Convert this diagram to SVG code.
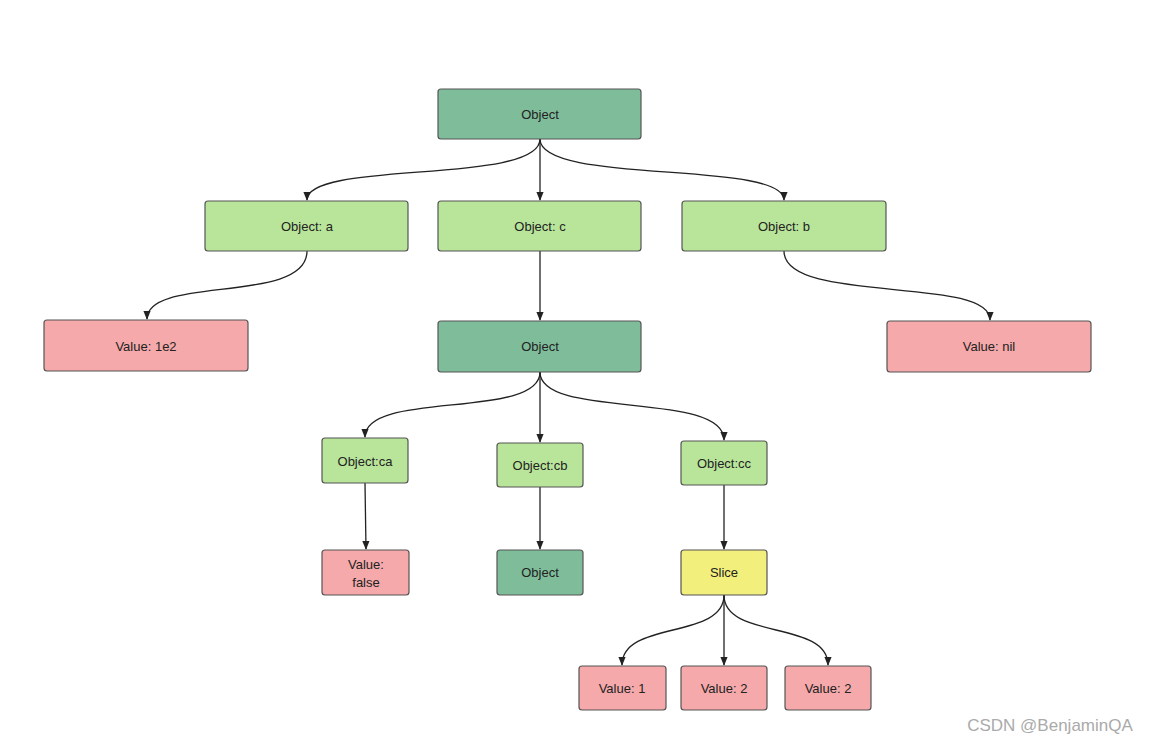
<svg xmlns="http://www.w3.org/2000/svg" width="1155" height="745" viewBox="0 0 1155 745">
<style>
rect{stroke:#555;stroke-width:1.2}
.g{fill:#b9e59a}.d{fill:#7fbd9a}.p{fill:#f5a9aa}.y{fill:#f2ef7c}
text{font-family:"Liberation Sans",Arial,sans-serif;font-size:13px;fill:#222;text-anchor:middle;dominant-baseline:central}
.e path{fill:none;stroke:#222;stroke-width:1.3;marker-end:url(#a)}
</style>
<defs><marker id="a" viewBox="0 0 10 10" refX="9" refY="5" markerWidth="7" markerHeight="7" orient="auto"><path d="M0,1 L10,5 L0,9z" fill="#222"/></marker></defs>
<rect width="1155" height="745" fill="#fff" style="stroke:none"/>
<g class="e">
<path d="M540,139 C540,185 307,160 307,200"/>
<path d="M540,139 L540,200"/>
<path d="M540,139 C540,185 784,160 784,200"/>
<path d="M307,251 C307,305 147,275 147,319"/>
<path d="M784,251 C784,305 990,275 990,320"/>
<path d="M540,251 L540,320"/>
<path d="M540,372 C540,420 365,390 365,437"/>
<path d="M540,372 L540,442"/>
<path d="M540,372 C540,420 724,390 724,440"/>
<path d="M365,483 L366,549"/>
<path d="M540,487 L540,549"/>
<path d="M724,485 L724,549"/>
<path d="M724,595 C724,640 622,620 622,665"/>
<path d="M724,595 L724,665"/>
<path d="M724,595 C724,640 828,620 828,665"/>
</g>
<g id="n1"><rect class="d" x="438" y="89" width="203" height="50" rx="3"/><text x="540" y="114">Object</text></g>
<g id="n2"><rect class="g" x="205" y="201" width="203" height="50" rx="3"/><text x="307" y="226">Object: a</text></g>
<g id="n3"><rect class="g" x="438" y="201" width="203" height="50" rx="3"/><text x="540" y="226">Object: c</text></g>
<g id="n4"><rect class="g" x="682" y="201" width="204" height="50" rx="3"/><text x="784" y="226">Object: b</text></g>
<g id="n5"><rect class="p" x="44" y="320" width="204" height="51" rx="3"/><text x="146" y="346">Value: 1e2</text></g>
<g id="n6"><rect class="d" x="438" y="321" width="203" height="51" rx="3"/><text x="540" y="346">Object</text></g>
<g id="n7"><rect class="p" x="887" y="321" width="204" height="51" rx="3"/><text x="989" y="346">Value: nil</text></g>
<g id="n8"><rect class="g" x="322" y="438" width="86" height="45" rx="3"/><text x="365" y="461">Object:ca</text></g>
<g id="n9"><rect class="g" x="497" y="443" width="86" height="44" rx="3"/><text x="540" y="465">Object:cb</text></g>
<g id="n10"><rect class="g" x="681" y="441" width="86" height="44" rx="3"/><text x="724" y="463">Object:cc</text></g>
<g id="n11"><rect class="p" x="322" y="550" width="87" height="45" rx="3"/><text x="366" y="564">Value:</text><text x="366" y="582">false</text></g>
<g id="n12"><rect class="d" x="497" y="550" width="86" height="45" rx="3"/><text x="540" y="572">Object</text></g>
<g id="n13"><rect class="y" x="681" y="550" width="86" height="45" rx="3"/><text x="724" y="572">Slice</text></g>
<g id="n14"><rect class="p" x="579" y="666" width="87" height="44" rx="3"/><text x="622" y="688">Value: 1</text></g>
<g id="n15"><rect class="p" x="681" y="666" width="86" height="44" rx="3"/><text x="724" y="688">Value: 2</text></g>
<g id="n16"><rect class="p" x="785" y="666" width="86" height="44" rx="3"/><text x="828" y="688">Value: 2</text></g>
<text x="1050" y="725" style="font-size:17px;fill:#aaa">CSDN @BenjaminQA</text>
</svg>
